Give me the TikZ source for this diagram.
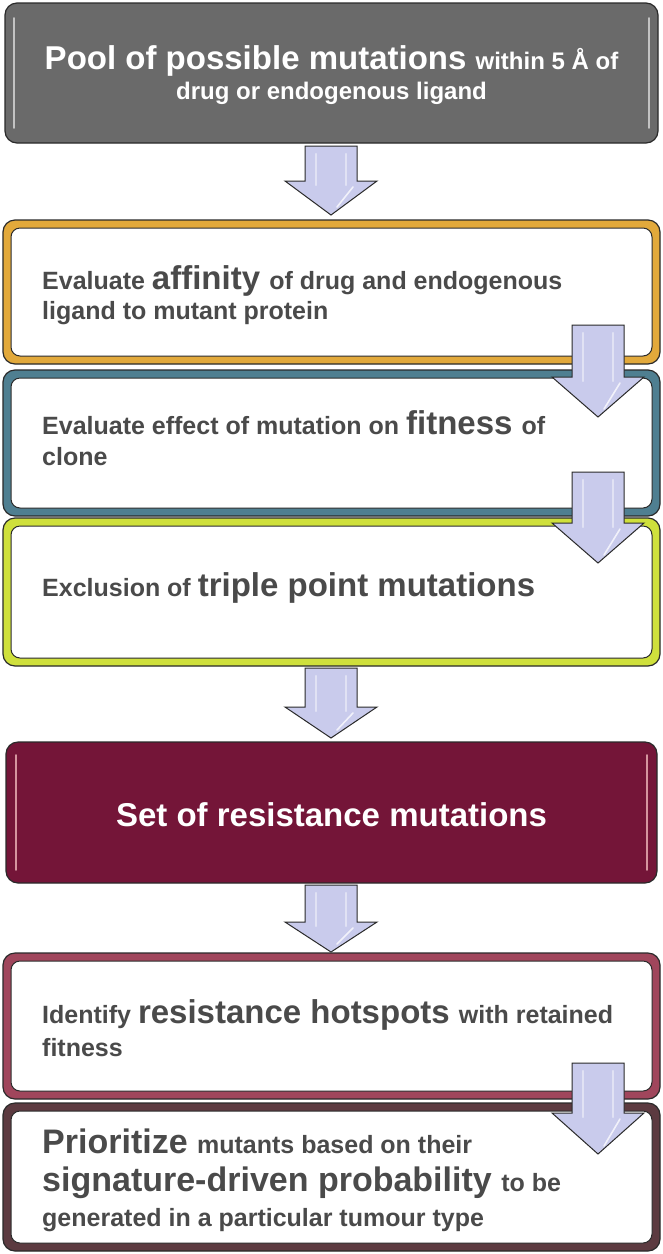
\documentclass[tikz,border=0pt]{standalone}
\usepackage{fontspec}
\setmainfont{Liberation Sans}
\definecolor{grayfill}{HTML}{6A6A6A}
\definecolor{orangeb}{HTML}{E2A93B}
\definecolor{blueb}{HTML}{4F7F91}
\definecolor{greenb}{HTML}{CFE03C}
\definecolor{maroonf}{HTML}{741538}
\definecolor{roseb}{HTML}{A0465C}
\definecolor{darkb}{HTML}{5C3A40}
\definecolor{txtgray}{HTML}{4A4A4A}
\definecolor{arrowf}{HTML}{C9CBEC}
\definecolor{edge}{HTML}{2A2A2A}
\newcommand{\fs}[1]{\fontsize{#1}{#1}\selectfont}
\tikzset{
  outerbox/.style={draw=edge, line width=1.2pt, rounded corners=12pt, inner sep=0pt},
  innerbox/.style={draw=edge, line width=1pt, fill=white, rounded corners=9pt, inner sep=0pt},
  solidbox/.style={draw=edge, line width=1.2pt, rounded corners=12pt, inner sep=0pt},
  txt/.style={inner sep=0pt, anchor=base west, text=txtgray, font=\bfseries},
  wtxt/.style={inner sep=0pt, anchor=base, text=white, font=\bfseries},
  arrowshape/.style={fill=arrowf, draw=edge, line width=1pt, line join=miter},
  glint/.style={draw=white, line width=1.6pt, opacity=0.75, line cap=round},
  softglint/.style={draw=white, line width=2.4pt, opacity=0.45, line cap=round}
}
% cx, ytop, yhead, ytip
\newcommand{\blkarrow}[4]{%
  \path[arrowshape] ({#1-26},#2) -- ({#1+26},#2) -- ({#1+26},#3) -- ({#1+46},#3) -- (#1,#4) -- ({#1-46},#3) -- ({#1-26},#3) -- cycle;
  \path[softglint] ({#1-15},{#2+8}) -- ({#1-15},{#3+4});
  \path[softglint] ({#1+15},{#2+8}) -- ({#1+15},{#3+4});
  \path[glint] ({#1+22},{#3+6}) -- ({#1+6},{#4-8});
}
\begin{document}
\begin{tikzpicture}[x=1pt,y=-1pt]
\useasboundingbox (0,0) rectangle (663,1254);
\fill[white] (0,0) rectangle (663,1254);

% Box 1 (gray)
\node[solidbox, fill=grayfill, minimum width=653pt, minimum height=140pt] (b1) at (331.5,73) {};
\path[glint, opacity=0.6] (14,18) -- (14,128);
\path[glint, opacity=0.6] (649,18) -- (649,128);
\node[wtxt] (t1a) at (331.5,69) {\fs{33}Pool of possible mutations \fs{24}within 5 Å of};
\node[wtxt] (t1b) at (331.5,99) {\fs{24}drug or endogenous ligand};

% Arrow 1
\blkarrow{331}{146}{181}{215}

% Box 2 (orange)
\node[outerbox, fill=orangeb, minimum width=657pt, minimum height=144pt] (b2) at (331.5,292) {};
\node[innerbox, minimum width=641pt, minimum height=128pt] (b2i) at (b2.center) {};
\node[txt] (t2a) at (42,289) {\fs{25}Evaluate \fs{33}affinity \fs{25}of drug and endogenous};
\node[txt] (t2b) at (42,319) {\fs{25}ligand to mutant protein};

% Box 3 (blue)
\node[outerbox, fill=blueb, minimum width=657pt, minimum height=146pt] (b3) at (331.5,443) {};
\node[innerbox, minimum width=641pt, minimum height=130pt] (b3i) at (b3.center) {};
\node[txt] (t3a) at (42,434) {\fs{25}Evaluate effect of mutation on \fs{33}fitness \fs{25}of};
\node[txt] (t3b) at (42,465) {\fs{25}clone};

% Arrow 2 (orange -> blue)
\blkarrow{598}{325}{377}{417}

% Box 4 (green)
\node[outerbox, fill=greenb, minimum width=657pt, minimum height=148pt] (b4) at (331.5,592) {};
\node[innerbox, minimum width=641pt, minimum height=132pt] (b4i) at (b4.center) {};
\node[txt] (t4a) at (42,596) {\fs{25}Exclusion of \fs{33}triple point mutations};

% Arrow 3 (blue -> green)
\blkarrow{598}{472}{523}{563}

% Arrow 4
\blkarrow{331}{668}{707}{738}

% Box 5 (maroon)
\node[solidbox, fill=maroonf, minimum width=651pt, minimum height=141pt] (b5) at (331.5,812.5) {};
\path[glint, draw=pink!80!white, opacity=0.7] (16,755) -- (16,870);
\path[glint, draw=pink!80!white, opacity=0.7] (647,755) -- (647,870);
\node[wtxt] (t5a) at (331.5,826) {\fs{33}Set of resistance mutations};

% Arrow 5
\blkarrow{331}{885}{922}{952}

% Box 6 (rose)
\node[outerbox, fill=roseb, minimum width=657pt, minimum height=146pt] (b6) at (331.5,1026) {};
\node[innerbox, minimum width=641pt, minimum height=130pt] (b6i) at (b6.center) {};
\node[txt] (t6a) at (42,1023) {\fs{25}Identify \fs{33}resistance hotspots \fs{25}with retained};
\node[txt] (t6b) at (42,1056) {\fs{25}fitness};

% Box 7 (dark)
\node[outerbox, fill=darkb, minimum width=657pt, minimum height=148pt] (b7) at (331.5,1177) {};
\node[innerbox, minimum width=641pt, minimum height=132pt] (b7i) at (b7.center) {};
\node[txt] (t7a) at (42,1153) {\fs{34}Prioritize \fs{25}mutants based on their};
\node[txt] (t7b) at (42,1191) {\fs{34}signature-driven probability \fs{25}to be};
\node[txt] (t7c) at (42,1226) {\fs{25}generated in a particular tumour type};

% Arrow 6
\blkarrow{598}{1063}{1113}{1154}
\end{tikzpicture}
\end{document}
